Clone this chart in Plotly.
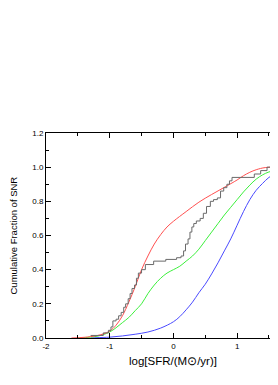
import plotly.graph_objects as go

# Observed SNR cumulative distribution (step)
obs_x = [-1.30, -1.10, -1.02, -0.98, -0.95, -0.90, -0.86, -0.82, -0.78, -0.75, -0.71, -0.68,
         -0.65, -0.61, -0.58, -0.55, -0.50, -0.44, -0.31, -0.12, 0.05, 0.12,
         0.16, 0.19, 0.23, 0.26, 0.29, 0.32, 0.36, 0.42, 0.47, 0.52, 0.58, 0.63, 0.69, 0.74,
         0.79, 0.84, 0.88, 0.92, 1.27, 1.37, 1.47, 2.0]
obs_y = [0.015, 0.03, 0.045, 0.065, 0.10, 0.11, 0.13, 0.15, 0.18, 0.20, 0.23, 0.26,
         0.29, 0.31, 0.35, 0.38, 0.40, 0.43, 0.45, 0.46, 0.47, 0.48,
         0.51, 0.55, 0.58, 0.62, 0.65, 0.67, 0.685, 0.70, 0.73, 0.77, 0.80, 0.81, 0.82, 0.86,
         0.88, 0.90, 0.92, 0.94, 0.96, 0.98, 1.0, 1.0]

red_x = [-1.6, -1.4, -1.3, -1.2, -1.1, -1.0, -0.9, -0.8, -0.7, -0.6, -0.5, -0.4, -0.3, -0.2,
         -0.1, 0.0, 0.2, 0.4, 0.6, 0.8, 1.0, 1.1, 1.2, 1.3, 1.45, 2.0]
red_y = [0.0, 0.004, 0.008, 0.014, 0.024, 0.04, 0.075, 0.13, 0.21, 0.30, 0.40, 0.48, 0.55, 0.605,
         0.65, 0.683, 0.74, 0.795, 0.84, 0.882, 0.925, 0.95, 0.97, 0.985, 0.998, 1.0]

green_x = [-1.5, -1.3, -1.2, -1.1, -1.0, -0.9, -0.8, -0.7, -0.6, -0.5, -0.4, -0.3, -0.2, -0.1,
           0.0, 0.1, 0.2, 0.3, 0.4, 0.5, 0.6, 0.7, 0.8, 0.9, 1.0, 1.1, 1.2, 1.3, 1.4, 1.5,
           1.64, 1.8, 2.0]
green_y = [0.0, 0.005, 0.01, 0.02, 0.035, 0.06, 0.09, 0.12, 0.16, 0.20, 0.26, 0.31, 0.35, 0.38,
           0.40, 0.42, 0.45, 0.48, 0.52, 0.57, 0.62, 0.67, 0.72, 0.765, 0.81, 0.855, 0.895, 0.93,
           0.955, 0.972, 0.985, 0.995, 1.0]

blue_x = [-1.3, -1.2, -1.0, -0.8, -0.6, -0.4, -0.2, 0.0, 0.1, 0.2, 0.3, 0.4, 0.5, 0.6, 0.7,
          0.8, 0.9, 1.0, 1.1, 1.2, 1.3, 1.4, 1.5, 1.64, 1.8, 2.0]
blue_y = [0.0, 0.002, 0.005, 0.012, 0.022, 0.035, 0.058, 0.095, 0.125, 0.165, 0.21, 0.265,
          0.315, 0.375, 0.44, 0.51, 0.58, 0.66, 0.74, 0.81, 0.865, 0.905, 0.94, 0.97, 0.99, 1.0]

x_ticks = [-2, -1, 0, 1]
y_ticks = [0.0, 0.2, 0.4, 0.6, 0.8, 1.0, 1.2]

# page body adds an 8px offset; the figure is sized to fit the window
W, H = 270, 377
ml, mt, mb = 38, 125, 47
px_per_unit = 63.7
x_end = -2 + (W - ml) / px_per_unit

fig = go.Figure()
fig.add_trace(go.Scatter(x=blue_x, y=blue_y, mode="lines", line_shape="spline",
                         line=dict(color="#4a4aff", width=1)))
fig.add_trace(go.Scatter(x=green_x, y=green_y, mode="lines", line_shape="spline",
                         line=dict(color="#3cf03c", width=1)))
fig.add_trace(go.Scatter(x=red_x, y=red_y, mode="lines", line_shape="spline",
                         line=dict(color="#ff5050", width=1)))
fig.add_trace(go.Scatter(x=obs_x, y=obs_y, mode="lines", line_shape="hv",
                         line=dict(color="#6a6a6a", width=1)))

fig.update_layout(
    width=W, height=H,
    margin=dict(l=ml, r=0, t=mt, b=mb, autoexpand=False),
    paper_bgcolor="white", plot_bgcolor="white",
    showlegend=False,
    font=dict(family="Liberation Sans, Arial", color="black", size=8),
)
fig.update_xaxes(
    range=[-2, x_end], showgrid=False, zeroline=False,
    showline=True, linecolor="black", linewidth=1, mirror="ticks",
    tickmode="array", tickvals=x_ticks, ticktext=[str(v) for v in x_ticks],
    ticks="inside", ticklen=5, tickcolor="black", tickwidth=1,
    minor=dict(dtick=0.5, tick0=-2, ticks="inside", ticklen=3, tickcolor="black", showgrid=False),
    tickfont=dict(size=8),
)
fig.update_yaxes(
    range=[0, 1.2], showgrid=False, zeroline=False,
    showline=True, linecolor="black", linewidth=1, mirror=False,
    tickmode="array", tickvals=y_ticks, ticktext=[f"{v:.1f}" for v in y_ticks],
    ticks="inside", ticklen=5, tickcolor="black", tickwidth=1,
    minor=dict(dtick=0.1, tick0=0, ticks="inside", ticklen=3, tickcolor="black", showgrid=False),
    tickfont=dict(size=8),
)
plot_w = W - ml
plot_h = H - mt - mb
fig.add_annotation(text="log[SFR/(M⊙/yr)]", x=0, xref="x", y=-23 / plot_h, yref="paper",
                   showarrow=False, xanchor="center", yanchor="middle", font=dict(size=11.5))
fig.add_annotation(text="Cumulative Fraction of SNR", x=(13 - 46) / plot_w, xref="paper",
                   y=0.5, yref="paper", textangle=-90, showarrow=False,
                   xanchor="center", yanchor="middle", font=dict(size=9.5))

fig.write_html("out.html")
